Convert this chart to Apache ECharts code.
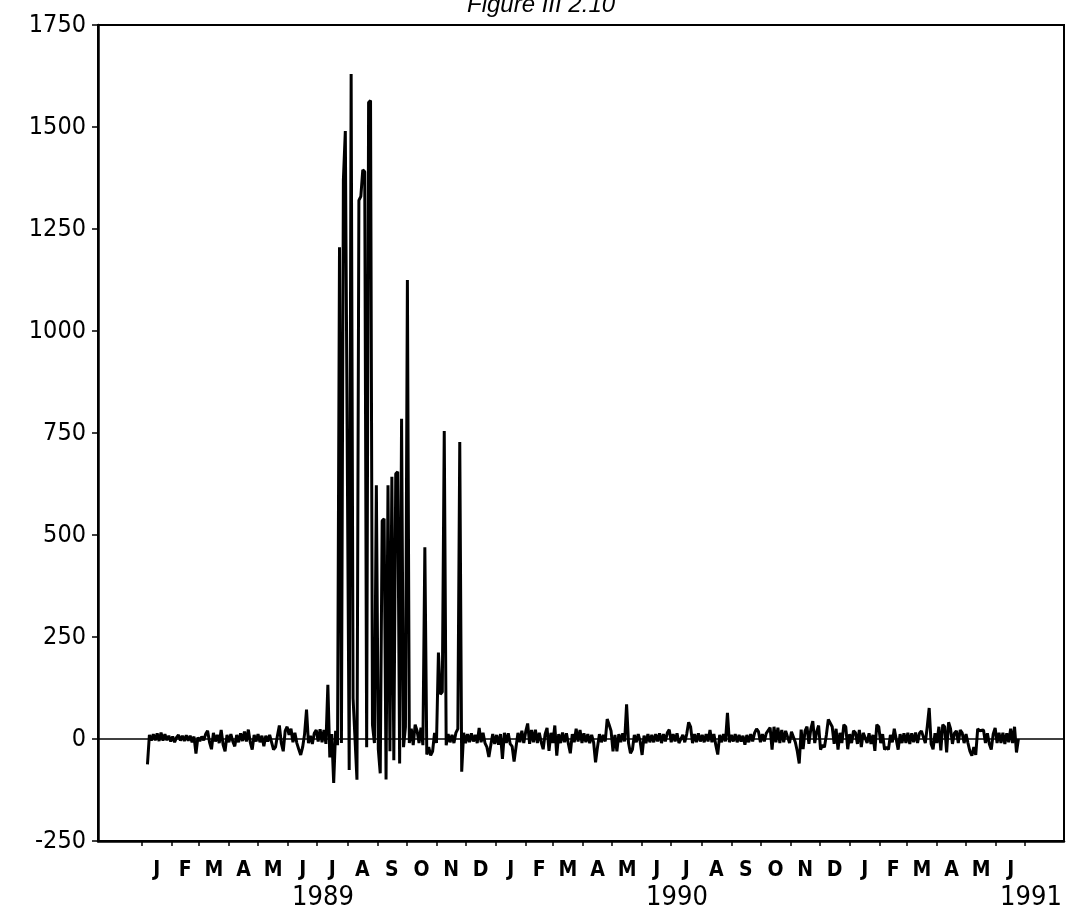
<!DOCTYPE html>
<html>
<head>
<meta charset="utf-8">
<script src="https://cdn.jsdelivr.net/npm/echarts@6/dist/echarts.min.js"></script>
<style>
  html, body { margin: 0; padding: 0; background: #fff; }
  #chart { width: 1067px; height: 915px; }
</style>
</head>
<body>
<div id="chart"></div>
<script>
// Daily series, sampled every other day, starting 7 Jan 1989.
const titleText = 'Figure III 2.10';
const seriesStart = [1989, 0, 7];
const stepDays = 2;
const axisStart = [1988, 10, 17];
const axisEnd = [1991, 7, 10];
const yMin = -250, yMax = 1750, yStep = 250;
const monthLetters = ['J', 'F', 'M', 'A', 'M', 'J', 'J', 'A', 'S', 'O', 'N', 'D'];
const firstLabelledMonth = [1989, 0];
const labelledMonthCount = 30;
const yearLabels = [1989, 1990, 1991];
const yearLabelDay = [6, 7]; // year names sit under early July

const values = [
  -62, 10, -4, 12, -3, 14, -5, 16, -4, 12,
  -3, 8, -6, 6, -8, 4, 10, -4, 8, -5,
  9, -4, 8, -8, 6, -36, 4, -5, 6, -3,
  12, 20, -8, -25, 15, -6, 10, -10, 22, -14,
  -30, 10, -8, 12, -6, -18, 10, -8, 14, -5,
  18, -6, 23, -8, -26, 10, -6, 12, -8, 8,
  -18, 8, -6, 10, -8, -26, -20, 8, 33, -10,
  -30, 20, 30, 10, 25, -8, 15, -10, -25, -39,
  -20, 12, 72, -10, 8, -12, 14, 22, -6, 24,
  -8, 22, -12, 133, -45, 12, -108, 20, -15, 1205,
  -10, 1370, 1490, 1490, -76, 1630, 100, 100, -100, 1320,
  1330, 1395, 1390, -20, 1560, 1565, 35, -10, 622, -25,
  -84, 535, 540, -99, 622, -30, 643, -52, 650, 655,
  -60, 785, -20, 30, 1125, -10, 25, -15, 35, 20,
  -10, 28, -15, 470, -38, -20, -40, -30, 15, -10,
  212, 110, 115, 755, -15, 12, -8, 10, -10, 15,
  25, 728, -80, 15, -10, 12, -8, 14, -6, 10,
  -10, 27, -8, 15, -10, -20, -44, -15, 12, -12,
  10, -14, 12, -49, 15, -10, 14, -12, -18, -55,
  -20, 15, -8, 20, -10, 18, 38, -12, 22, -8,
  23, -10, 15, -8, -25, 12, 27, -29, 15, -10,
  33, -41, 12, -10, 16, -8, 14, -12, -35, 12,
  -8, 25, -6, 22, -10, 14, -8, 12, -10, 10,
  -8, -57, -20, 12, -8, 10, -6, 49, 35, 20,
  -30, 10, -30, 12, -8, 14, -6, 85, -10, -35,
  -26, 10, -8, 12, -6, -39, 8, -10, 12, -8,
  10, -8, 12, -6, 14, -10, 12, -6, 15, 23,
  -8, 12, -6, 14, -10, -14, 10, -8, 12, 41,
  30, -10, 12, -8, 14, -6, 10, -8, 12, -6,
  22, -8, 12, -15, -38, 10, -8, 12, -6, 64,
  -8, 10, -6, 12, -8, 10, -6, 8, -14, 10,
  -8, 12, -6, 15, 25, 18, -8, 12, -6, 14,
  12, 28, -26, 30, -8, 28, -10, 22, -8, 20,
  20, -10, 18, 20, -8, -30, -60, 23, -25, 20,
  30, -12, 25, 44, -10, 18, 33, -26, -15, -20,
  10, 48, 45, 30, -12, 25, -26, 15, -10, 35,
  30, -25, 12, -10, 20, 15, -12, 22, -20, 15,
  18, -10, 14, -12, 10, -29, 35, 30, -10, 12,
  -26, -20, -26, 10, -8, 25, 22, -26, 12, -10,
  14, -10, 15, -12, 14, -8, 16, -10, 14, 20,
  22, -10, 30, 76, -12, -25, 14, -10, 30, -28,
  35, 30, -33, 41, 25, -12, 14, 20, -10, 22,
  15, -10, 12, -10, -30, -41, -20, -39, 25, 20,
  18, 22, -10, 14, -12, -26, 12, 27, -10, 15,
  -10, 15, -12, 14, -8, 25, -10, 30, -33, 0
];

// x is counted in days from 1 Jan 1989
const DAY = 86400000;
const EPOCH = Date.UTC(1989, 0, 1);
const dayOf = (y, m, d) => (Date.UTC(y, m, d) - EPOCH) / DAY;

const startDay = dayOf(...seriesStart);
const points = values.map((v, i) => [startDay + i * stepDays, v]);

const monthStarts = [];
const monthCenters = [];
const centerLetter = new Map();
for (let k = 0; k < labelledMonthCount; k++) {
  const y = firstLabelledMonth[0] + Math.floor((firstLabelledMonth[1] + k) / 12);
  const m = (firstLabelledMonth[1] + k) % 12;
  const s = dayOf(y, m, 1);
  const e = dayOf(y, m + 1, 1);
  monthStarts.push(s);
  const c = (s + e) / 2;
  monthCenters.push(c);
  centerLetter.set(c, monthLetters[m]);
}
monthStarts.push(dayOf(firstLabelledMonth[0], firstLabelledMonth[1] + labelledMonthCount, 1));

const yearCenters = yearLabels.map(y => dayOf(y, yearLabelDay[0], yearLabelDay[1]));
const yearOf = new Map(yearCenters.map((c, i) => [c, String(yearLabels[i])]));

const xMin = dayOf(...axisStart);
const xMax = dayOf(...axisEnd);

const narrow = "'Liberation Sans Narrow', 'Arial Narrow', 'DejaVu Sans Condensed', sans-serif";

const chart = echarts.init(document.getElementById('chart'), null, { renderer: 'canvas' });
chart.setOption({
  animation: false,
  backgroundColor: '#fff',
  title: {
    text: titleText,
    left: 462,
    top: -12,
    textStyle: {
      fontFamily: "'Liberation Sans', Arial, sans-serif",
      fontStyle: 'italic',
      fontWeight: 'normal',
      fontSize: 24,
      color: '#000'
    }
  },
  grid: {
    left: 98, right: 3, top: 25, bottom: 74,
    show: true, borderColor: '#000', borderWidth: 2,
    containLabel: false
  },
  xAxis: [
    {
      type: 'value',
      min: xMin, max: xMax,
      splitLine: { show: false },
      axisLine: { show: true, onZero: false, lineStyle: { color: '#000', width: 2.5 } },
      axisTick: { show: true, customValues: monthStarts, length: 5, lineStyle: { color: '#000', width: 1.5 } },
      axisLabel: {
        show: true,
        customValues: monthCenters,
        formatter: v => centerLetter.get(v) || '',
        fontFamily: narrow,
        fontWeight: 'bold',
        fontSize: 21,
        color: '#000',
        margin: 19
      }
    },
    {
      type: 'value',
      position: 'bottom',
      min: xMin, max: xMax,
      splitLine: { show: false },
      axisLine: { show: false, onZero: false },
      axisTick: { show: false },
      axisLabel: {
        show: true,
        customValues: yearCenters,
        formatter: v => yearOf.get(v) || '',
        fontFamily: narrow,
        fontSize: 27,
        color: '#000',
        margin: 43
      }
    }
  ],
  yAxis: {
    type: 'value',
    min: yMin, max: yMax, interval: yStep,
    splitLine: { show: false },
    axisLine: { show: true, onZero: false, lineStyle: { color: '#000', width: 2.5 } },
    axisTick: { show: true, length: 6, lineStyle: { color: '#000', width: 1.5 } },
    axisLabel: {
      formatter: v => String(v),
      fontFamily: narrow,
      fontSize: 25,
      color: '#000',
      margin: 12
    }
  },
  series: [
    {
      type: 'line',
      data: points,
      xAxisIndex: 0,
      yAxisIndex: 0,
      showSymbol: false,
      symbol: 'none',
      sampling: null,
      lineStyle: { color: '#000', width: 3 },
      markLine: {
        silent: true,
        symbol: ['none', 'none'],
        label: { show: false },
        lineStyle: { color: '#000', width: 1.5, type: 'solid' },
        data: [{ yAxis: 0 }]
      }
    }
  ]
});
</script>
</body>
</html>
